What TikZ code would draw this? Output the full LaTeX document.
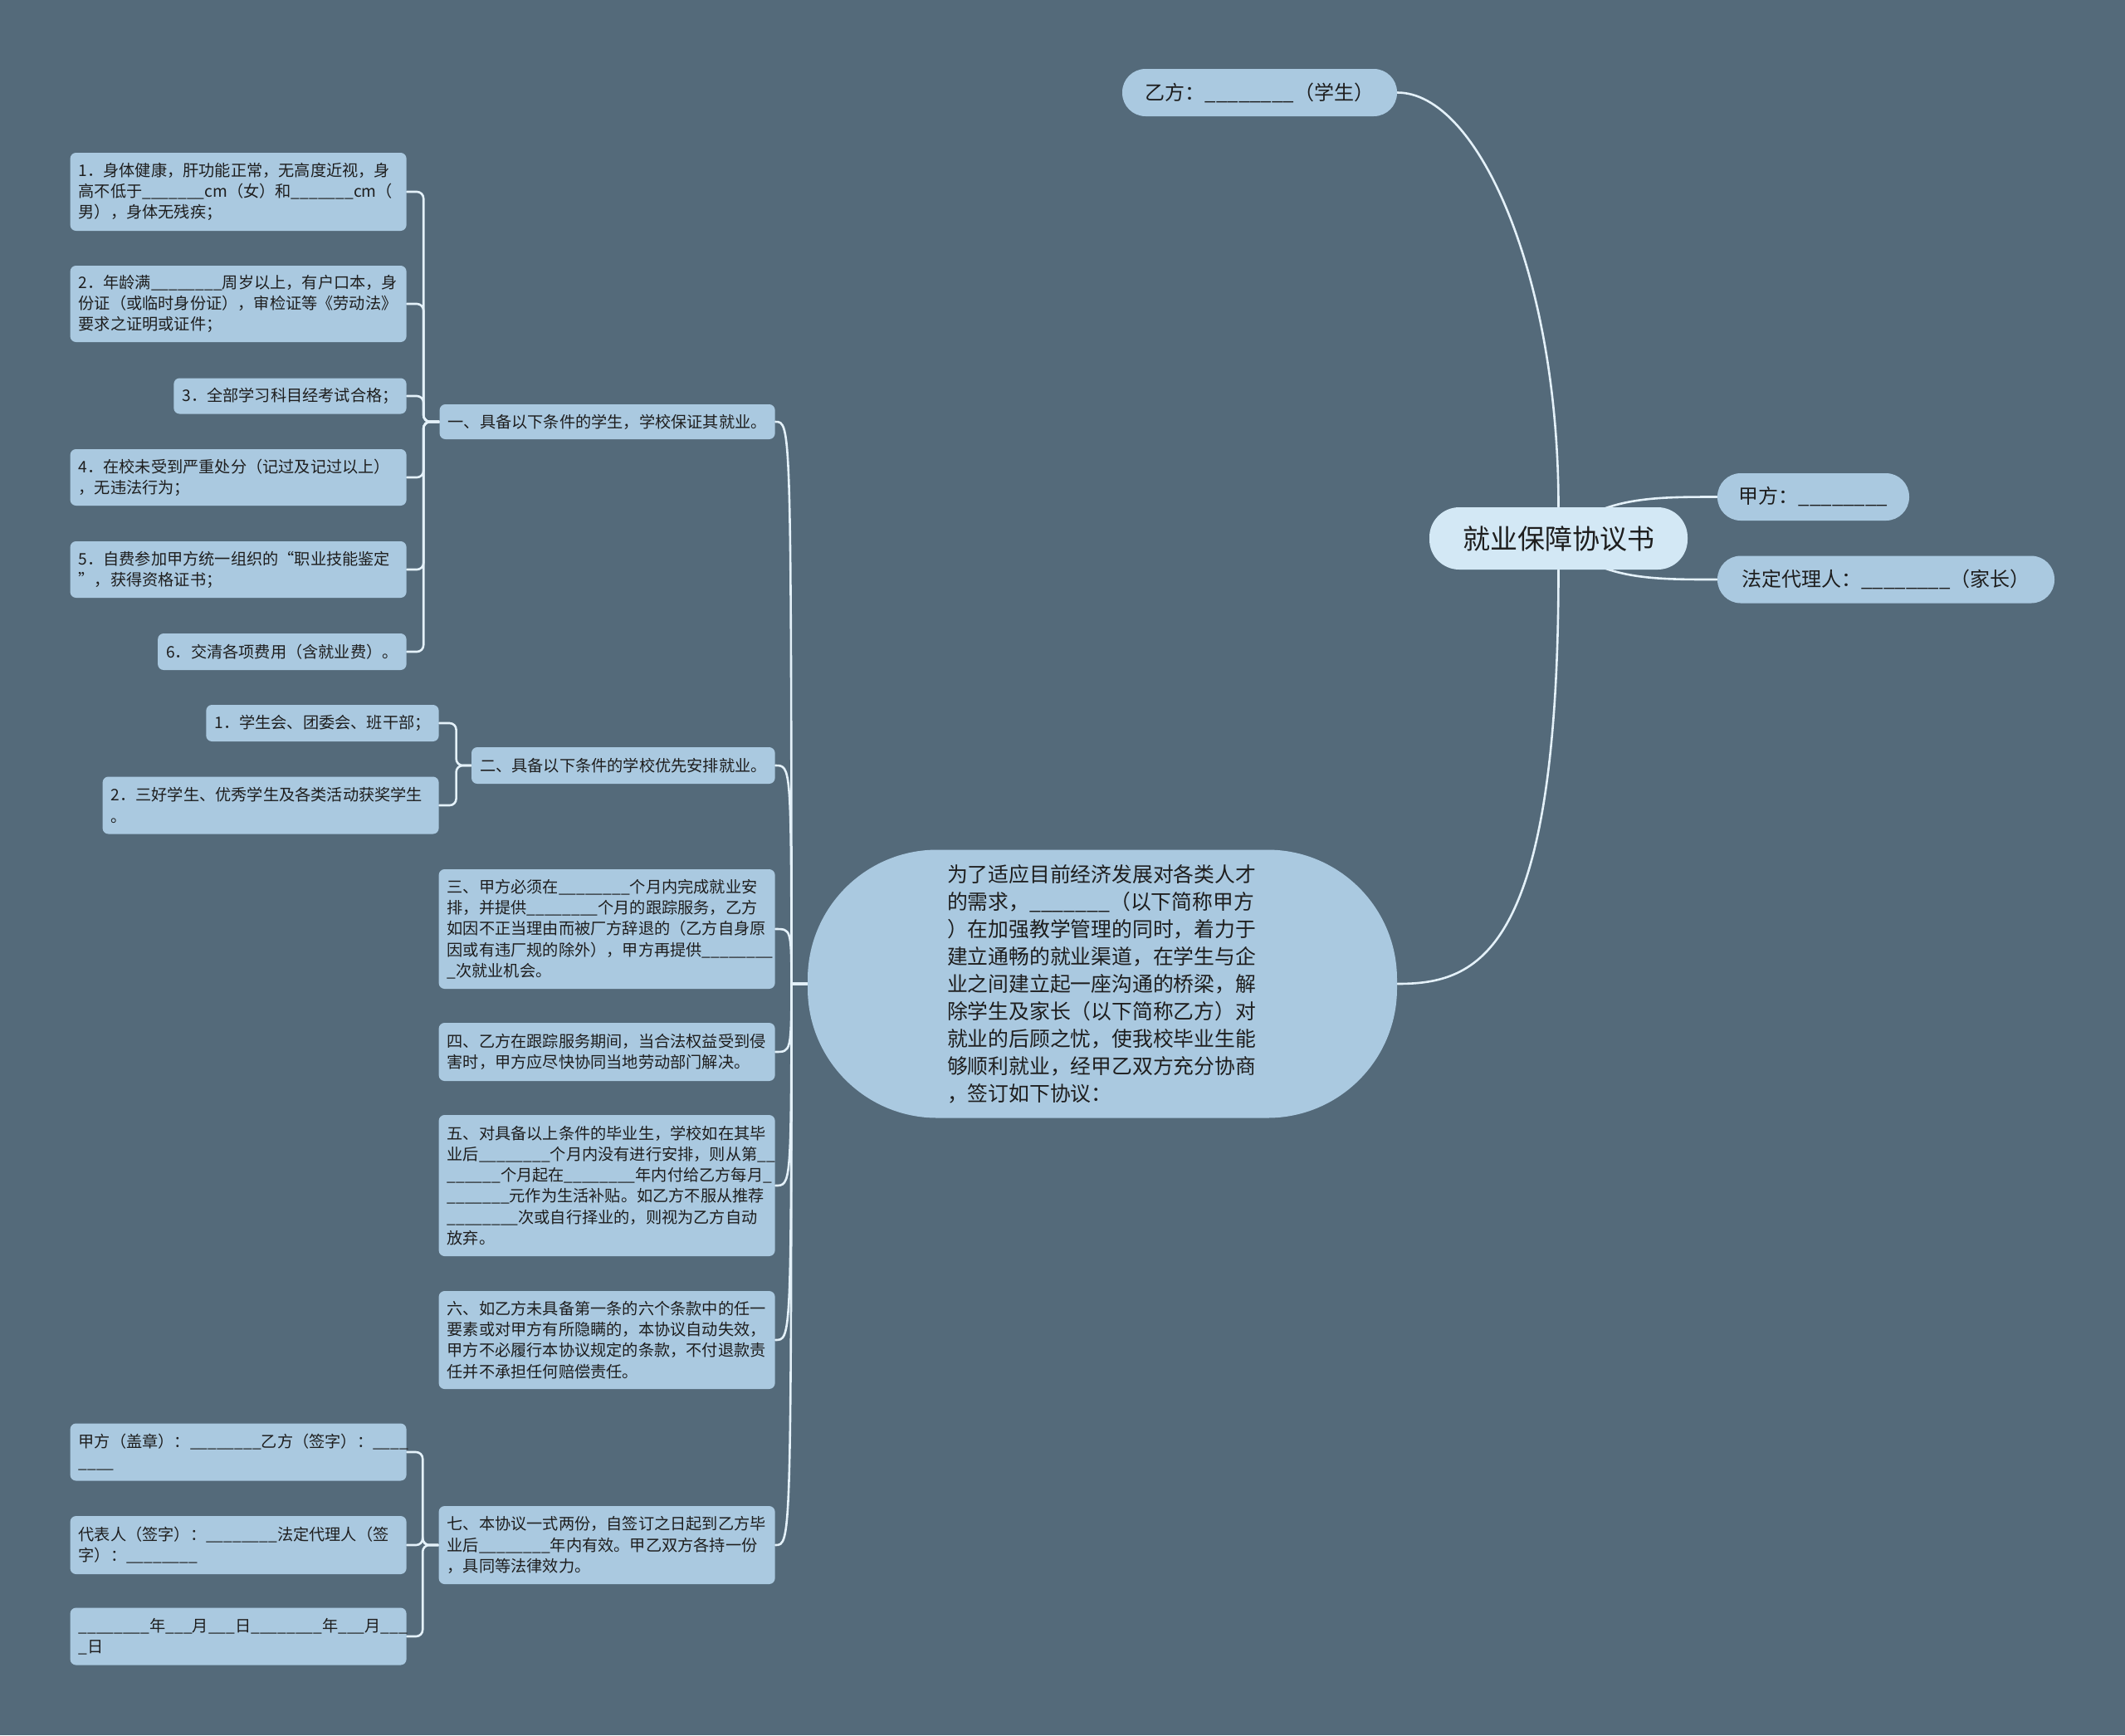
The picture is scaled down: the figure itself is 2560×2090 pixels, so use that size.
\documentclass[tikz,border=0pt]{standalone}
\usepackage{fontspec}
\setmainfont{Noto Sans CJK SC}
\usetikzlibrary{calc,backgrounds}
\definecolor{canvas}{HTML}{546A7A}
\definecolor{boxfill}{HTML}{AAC9E0}
\definecolor{rootfill}{HTML}{D3E8F5}
\definecolor{wire}{HTML}{E4F1F9}
\definecolor{ink}{HTML}{1E1E1E}
\newcommand\blankln[1][8]{\foreach\k in {1,...,#1}{\_}}
\tikzset{
  every node/.style={text=ink},
  item/.style={fill=boxfill,rounded corners=3.5pt,inner xsep=5pt,inner ysep=3pt,
    anchor=east,align=left,font=\fontsize{9.6}{12.6}\selectfont},
  wide/.style={item,text width=192.5pt},
  pill/.style={fill=boxfill,rounded corners=14pt,minimum height=28.5pt,
    font=\fontsize{12}{14}\selectfont},
  rootbox/.style={fill=rootfill,rounded corners=18pt,minimum width=155.5pt,
    minimum height=37.5pt,font=\fontsize{16.5}{18}\selectfont},
  introbox/.style={fill=boxfill,rounded corners=78pt,minimum width=355pt,
    minimum height=161.5pt,text width=187pt,align=left,
    font=\fontsize{12.4}{16.5}\selectfont},
  link/.style={draw=wire,line width=1.3pt,line cap=round},
  bracket/.style={link,rounded corners=4pt}}

\begin{document}
\begin{tikzpicture}[x=.5pt,y=-.5pt]
\node[rootbox] (root) at (1877.5,648.5) {就业保障协议书};
\node[pill,minimum width=165.5pt] (yi) at (1517.5,111.5) {乙方：\blankln（学生）};
\node[pill,minimum width=115.5pt] (jia) at (2184.5,598.5) {甲方：\blankln};
\node[pill,minimum width=203pt] (fading) at (2272,698) {法定代理人：\blankln（家长）};
\node[introbox] (intro) at (1328,1185) {为了适应目前经济发展对各类人才\\的需求，\blankln[7]（以下简称甲方\\）在加强教学管理的同时，着力于\\建立通畅的就业渠道，在学生与企\\业之间建立起一座沟通的桥梁，解\\除学生及家长（以下简称乙方）对\\就业的后顾之忧，使我校毕业生能\\够顺利就业，经甲乙双方充分协商\\，签订如下协议：};

\node[item,minimum height=21pt] (br1) at (934,508) {一、具备以下条件的学生，学校保证其就业。};
\node[wide,minimum height=47pt] (a1) at (490,231) {1．身体健康，肝功能正常，无高度近视，身\\高不低于\blankln[7]cm（女）和\blankln[7]cm（\\男），身体无残疾；};
\node[wide,minimum height=46pt] (a2) at (490,366) {2．年龄满\blankln 周岁以上，有户口本，身\\份证（或临时身份证），审检证等《劳动法》\\要求之证明或证件；};
\node[item,minimum height=21.5pt] (a3) at (490,477) {3．全部学习科目经考试合格；};
\node[wide,minimum height=34pt] (a4) at (490,575) {4．在校未受到严重处分（记过及记过以上）\\，无违法行为；};
\node[wide,minimum height=34pt] (a5) at (490,686) {5．自费参加甲方统一组织的“职业技能鉴定\\”，获得资格证书；};
\node[item,minimum height=22pt] (a6) at (490,785) {6．交清各项费用（含就业费）。};

\node[item,minimum height=22pt] (br2) at (934,922) {二、具备以下条件的学校优先安排就业。};
\node[item,minimum height=22pt] (b1) at (529,871) {1．学生会、团委会、班干部；};
\node[wide,minimum height=34.5pt] (b2) at (529,970) {2．三好学生、优秀学生及各类活动获奖学生\\。};

\node[wide,minimum height=72pt] (br3) at (934,1119) {三、甲方必须在\blankln 个月内完成就业安\\排，并提供\blankln 个月的跟踪服务，乙方\\如因不正当理由而被厂方辞退的（乙方自身原\\因或有违厂规的除外），甲方再提供\blankln\\\_次就业机会。};
\node[wide,minimum height=35pt] (br4) at (934,1267) {四、乙方在跟踪服务期间，当合法权益受到侵\\害时，甲方应尽快协同当地劳动部门解决。};
\node[wide,minimum height=85pt] (br5) at (934,1428) {五、对具备以上条件的毕业生，学校如在其毕\\业后\blankln 个月内没有进行安排，则从第\blankln[2]\\\blankln[6]个月起在\blankln 年内付给乙方每月\_\\\blankln[7]元作为生活补贴。如乙方不服从推荐\\\blankln 次或自行择业的，则视为乙方自动\\放弃。};
\node[wide,minimum height=59pt] (br6) at (934,1614) {六、如乙方未具备第一条的六个条款中的任一\\要素或对甲方有所隐瞒的，本协议自动失效，\\甲方不必履行本协议规定的条款，不付退款责\\任并不承担任何赔偿责任。};
\node[wide,minimum height=47pt] (br7) at (934,1861) {七、本协议一式两份，自签订之日起到乙方毕\\业后\blankln 年内有效。甲乙双方各持一份\\，具同等法律效力。};
\node[wide,minimum height=34.5pt] (g1) at (490,1749) {甲方（盖章）：\blankln 乙方（签字）：\blankln[4]\\\blankln[4]};
\node[wide,minimum height=35pt] (g2) at (490,1861) {代表人（签字）：\blankln 法定代理人（签\\字）：\blankln};
\node[wide,minimum height=34.5pt] (g3) at (490,1971) {\blankln 年\blankln[3]月\blankln[3]日\blankln 年\blankln[3]月\blankln[3]\\\_日};

\begin{scope}[on background layer]
\fill[canvas] (0,0) rectangle (2560,2090);
\draw[link] (root.north) .. controls +(0,-280) and +(97,0) .. (yi.east);
\draw[link] (root.south) .. controls +(0,464) and +(97,0) .. (intro.east);
\draw[link] (root.center) .. controls +(48,-50) and +(-79,0) .. (jia.west);
\draw[link] (root.center) .. controls +(48,50) and +(-79,0) .. (fading.west);
\foreach \b in {br1,br2,br3,br4,br5,br6,br7}
  \draw[link] (intro.west) -- ++(-19,0) .. controls ($(\b.east)+(19,0)$) .. (\b.east);
\foreach \c in {a1,a2,a3,a4,a5,a6}
  \draw[bracket] (br1.west) -- ++(-19,0) |- (\c.east);
\foreach \c in {b1,b2}
  \draw[bracket] (br2.west) -- ++(-18,0) |- (\c.east);
\foreach \c in {g1,g2,g3}
  \draw[bracket] (br7.west) -- ++(-19,0) |- (\c.east);
\end{scope}
\end{tikzpicture}
\end{document}
